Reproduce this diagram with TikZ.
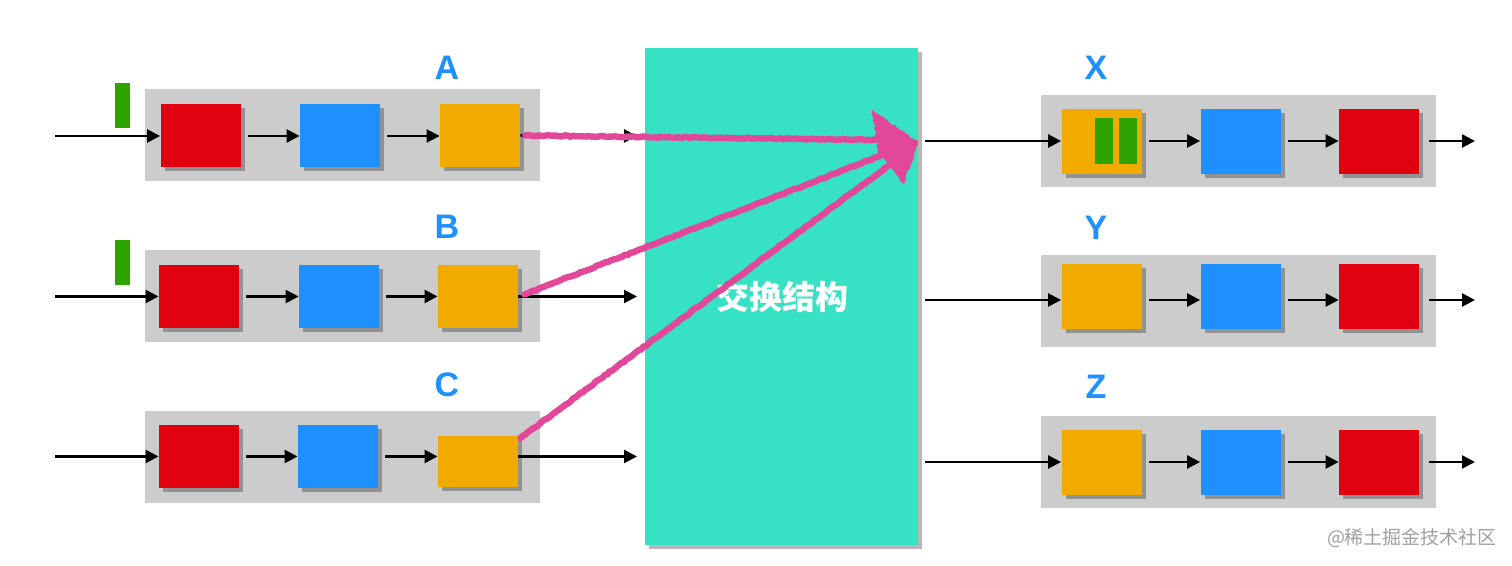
\documentclass[tikz,border=0pt]{standalone}
\usepackage{fontspec}
\newfontfamily\labfont{Liberation Sans}
\newfontfamily\cjk{Noto Sans CJK SC}
\usetikzlibrary{arrows.meta,shadows,decorations.pathmorphing}
\definecolor{cRed}{HTML}{E00010}
\definecolor{cBlue}{HTML}{1E90FF}
\definecolor{cOrange}{HTML}{F0AA00}
\definecolor{cGreen}{HTML}{2EA300}
\definecolor{cGray}{HTML}{CCCCCC}
\definecolor{cTeal}{HTML}{36E2C3}
\definecolor{cPink}{HTML}{E2479A}
\definecolor{cMark}{HTML}{A0A0A0}
\tikzset{
  lane/.style={fill=cGray, inner sep=0pt, minimum width=197.5pt, minimum height=46pt},
  pkt/.style={inner sep=0pt, minimum width=40pt, minimum height=31.5pt,
    drop shadow={shadow xshift=2pt, shadow yshift=-2pt, opacity=0.45, fill=black!70}},
  pktR/.style={pkt, fill=cRed},
  pktB/.style={pkt, fill=cBlue},
  pktO/.style={pkt, fill=cOrange},
  gbar/.style={fill=cGreen, inner sep=0pt, minimum width=7.5pt, minimum height=22.5pt},
  gsmall/.style={fill=cGreen, inner sep=0pt, minimum width=9pt, minimum height=23pt},
  lbl/.style={text=cBlue, font=\labfont\bfseries\fontsize{17}{20}\selectfont, inner sep=0pt},
  flow/.style={line width=1.25pt, -{Triangle[length=6.5pt,width=6.5pt]}},
  pinkline/.style={draw=cPink, line width=3.2pt, line cap=round,
    decorate, decoration={random steps, segment length=1.5pt, amplitude=0.3pt}},
}
\begin{document}
\begin{tikzpicture}[x=0.5pt, y=-0.5pt]
\useasboundingbox (0,0) rectangle (1512,566);
% switch fabric
\node[fill=cTeal, inner sep=0pt, minimum width=136.5pt, minimum height=248.5pt,
  drop shadow={shadow xshift=2pt, shadow yshift=-2pt, opacity=0.4, fill=black!70}] (sw) at (781.5,296.5) {};
\node[text=white, font=\cjk\bfseries\fontsize{16.5}{19}\selectfont, inner sep=0pt] (swt) at (782,297) {交换结构};

% ---------- input lanes ----------
% A
\node[lane] (laneA) at (342.5,135.5) {};
\node[pktR] (rA) at (200.5,135.5) {};
\node[pktB] (bA) at (340,135.5) {};
\node[pktO] (oA) at (480,135.5) {};
\node[gbar] (gA) at (122.5,105.5) {};
\node[lbl] (lA) at (447,68) {A};
\coordinate (inA) at (55,136);
\coordinate (outA) at (637,136);
% B
\node[lane] (laneB) at (342.5,296) {};
\node[pktR] (rB) at (199,296.5) {};
\node[pktB] (bB) at (339,296.5) {};
\node[pktO] (oB) at (478,296.5) {};
\node[gbar] (gB) at (122.5,262.5) {};
\node[lbl] (lB) at (447,227) {B};
\coordinate (inB) at (55,296.5);
\coordinate (outB) at (637,296.5);
% C
\node[lane] (laneC) at (342.5,457) {};
\node[pktR] (rC) at (199,456.5) {};
\node[pktB] (bC) at (338,456.5) {};
\node[pktO, minimum height=25.5pt] (oC) at (478,462) {};
\node[lbl] (lC) at (447,385) {C};
\coordinate (inC) at (55,456.5);
\coordinate (outC) at (637,456.5);

\foreach \r in {A,B,C}{
  \draw[flow] (in\r) -- (in\r -| r\r.west);
  \draw[flow] (r\r.east |- in\r) ++(7,0) -- (in\r -| b\r.west);
  \draw[flow] (b\r.east |- in\r) ++(7,0) -- (in\r -| o\r.west);
}
\draw[flow] (oA.east) -- (outA);
\draw[flow] (oB.east) -- (outB);
\draw[flow] (oC.east |- outC) -- (outC);

% ---------- output lanes ----------
\node[lane] (laneX) at (1238,141) {};
\node[pktO, minimum height=32.5pt] (oX) at (1101.5,141.5) {};
\node[gsmall] (gX1) at (1104,141) {};
\node[gsmall] (gX2) at (1128,141) {};
\node[pktB, minimum height=32.5pt] (bX) at (1240.5,141.5) {};
\node[pktR, minimum height=32.5pt] (rX) at (1379,141.5) {};
\node[lbl] (lX) at (1096,68) {X};
\coordinate (inX) at (925,141);
\coordinate (outX) at (1475,141);

\node[lane] (laneY) at (1238,301) {};
\node[pktO, minimum height=32.5pt] (oY) at (1101.5,297) {};
\node[pktB, minimum height=32.5pt] (bY) at (1240.5,297) {};
\node[pktR, minimum height=32.5pt] (rY) at (1379,297) {};
\node[lbl] (lY) at (1096,228) {Y};
\coordinate (inY) at (925,300);
\coordinate (outY) at (1475,300);

\node[lane] (laneZ) at (1238,462) {};
\node[pktO, minimum height=32.5pt] (oZ) at (1101.5,463) {};
\node[pktB, minimum height=32.5pt] (bZ) at (1240.5,463) {};
\node[pktR, minimum height=32.5pt] (rZ) at (1379,463) {};
\node[lbl] (lZ) at (1096,387) {Z};
\coordinate (inZ) at (925,462);
\coordinate (outZ) at (1475,462);

\foreach \r in {X,Y,Z}{
  \draw[flow] (in\r) -- (in\r -| o\r.west);
  \draw[flow] (o\r.east |- in\r) ++(7,0) -- (in\r -| b\r.west);
  \draw[flow] (b\r.east |- in\r) ++(7,0) -- (in\r -| r\r.west);
  \draw[flow] (r\r.east |- in\r) ++(10,0) -- (out\r);
}

% ---------- pink hand-drawn arrows ----------
\coordinate (tipT) at (872,110);
\coordinate (tip) at (918,142);
\coordinate (tipB) at (904,184);
\draw[pinkline] (oA.east) ++(5,0) -- (880,140);
\draw[pinkline] (oB.east) ++(6,-2) -- (880,156);
\draw[pinkline] (oC.north east) ++(2,2) -- (888,166);
\fill[cPink, decorate, decoration={random steps, segment length=1.5pt, amplitude=0.6pt}]
  (tipT) -- (tip) -- (tipB) -- (878,152) -- cycle;

% watermark
\node[text=cMark, font=\cjk\fontsize{9.5}{11}\selectfont, inner sep=0pt] (wm) at (1412,538) {@稀土掘金技术社区};
\end{tikzpicture}
\end{document}
